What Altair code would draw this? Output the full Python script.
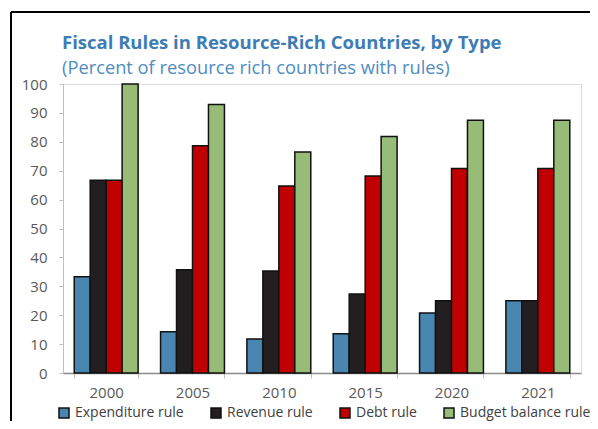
import altair as alt
import pandas as pd

years = ["2000", "2005", "2010", "2015", "2020", "2021"]
series = ["Expenditure rule", "Revenue rule", "Debt rule", "Budget balance rule"]
expenditure = [33.3, 14.3, 11.8, 13.6, 20.8, 25.0]
revenue = [66.7, 35.7, 35.3, 27.3, 25.0, 25.0]
debt = [66.7, 78.6, 64.7, 68.2, 70.8, 70.8]
budget = [100.0, 92.9, 76.5, 81.8, 87.5, 87.5]
colors = ["#4A86B2", "#231F20", "#C00000", "#97BC77"]
y_ticks = [0, 10, 20, 30, 40, 50, 60, 70, 80, 90, 100]

rows = []
for s, vals in zip(series, [expenditure, revenue, debt, budget]):
    for yr, v in zip(years, vals):
        rows.append({"year": yr, "rule": s, "value": v})
df = pd.DataFrame(rows)

FONT = "Open Sans"
W, H = 518, 289

bars = alt.Chart(df).mark_bar(stroke="#111111", strokeWidth=1.5).encode(
    x=alt.X("year:N", sort=years, title=None,
            scale=alt.Scale(paddingInner=0.26, paddingOuter=0.13),
            axis=alt.Axis(labelAngle=0, labelFontSize=15, labelColor="#595959",
                          labelFont=FONT, labelPadding=7, tickBand="extent",
                          tickSize=5, tickColor="#BFBFBF", domainColor="#8C8C8C",
                          domainWidth=1.5)),
    xOffset=alt.XOffset("rule:N", sort=series),
    y=alt.Y("value:Q", title=None,
            scale=alt.Scale(domain=[0, 100], nice=False),
            axis=alt.Axis(values=y_ticks, grid=False, labelFontSize=15,
                          labelColor="#595959", labelFont=FONT, labelPadding=12,
                          tickSize=4, tickColor="#BFBFBF", domainColor="#BFBFBF")),
    color=alt.Color("rule:N", sort=series,
                    scale=alt.Scale(domain=series, range=colors),
                    legend=alt.Legend(title=None, orient="none", direction="horizontal",
                                      legendX=-6, legendY=322, symbolType="square",
                                      symbolSize=100, symbolStrokeColor="#111111",
                                      symbolStrokeWidth=1.5, labelFontSize=14,
                                      labelFont=FONT, labelColor="#404040",
                                      columnPadding=24, labelOffset=4)),
)

frame_left = alt.Chart(alt.Data(values=[{}])).mark_rule(color="#000000", strokeWidth=2).encode(
    x=alt.value(-52), y=alt.value(-72), y2=alt.value(340))
frame_top = alt.Chart(alt.Data(values=[{}])).mark_rule(color="#000000", strokeWidth=2).encode(
    x=alt.value(-52), x2=alt.value(530), y=alt.value(-72))

chart = alt.layer(bars, frame_left, frame_top).properties(
    width=W, height=H,
    autosize=alt.AutoSizeParams(type="none"),
    padding={"left": 55, "top": 76, "right": 9, "bottom": 48},
    title=alt.TitleParams(
        "Fiscal Rules in Resource-Rich Countries, by Type",
        subtitle="(Percent of resource rich countries with rules)",
        anchor="start", frame="group", font=FONT, fontSize=18.5, fontWeight="bold",
        color="#3D7DB3", subtitleFont=FONT, subtitleFontSize=18.3,
        subtitleColor="#4F8CC2", subtitlePadding=7, offset=-66, dx=-1),
).configure_view(stroke="#D9D9D9", strokeWidth=1).configure(background="white")

chart.save("out.html", embed_options={"renderer": "svg", "actions": False})
